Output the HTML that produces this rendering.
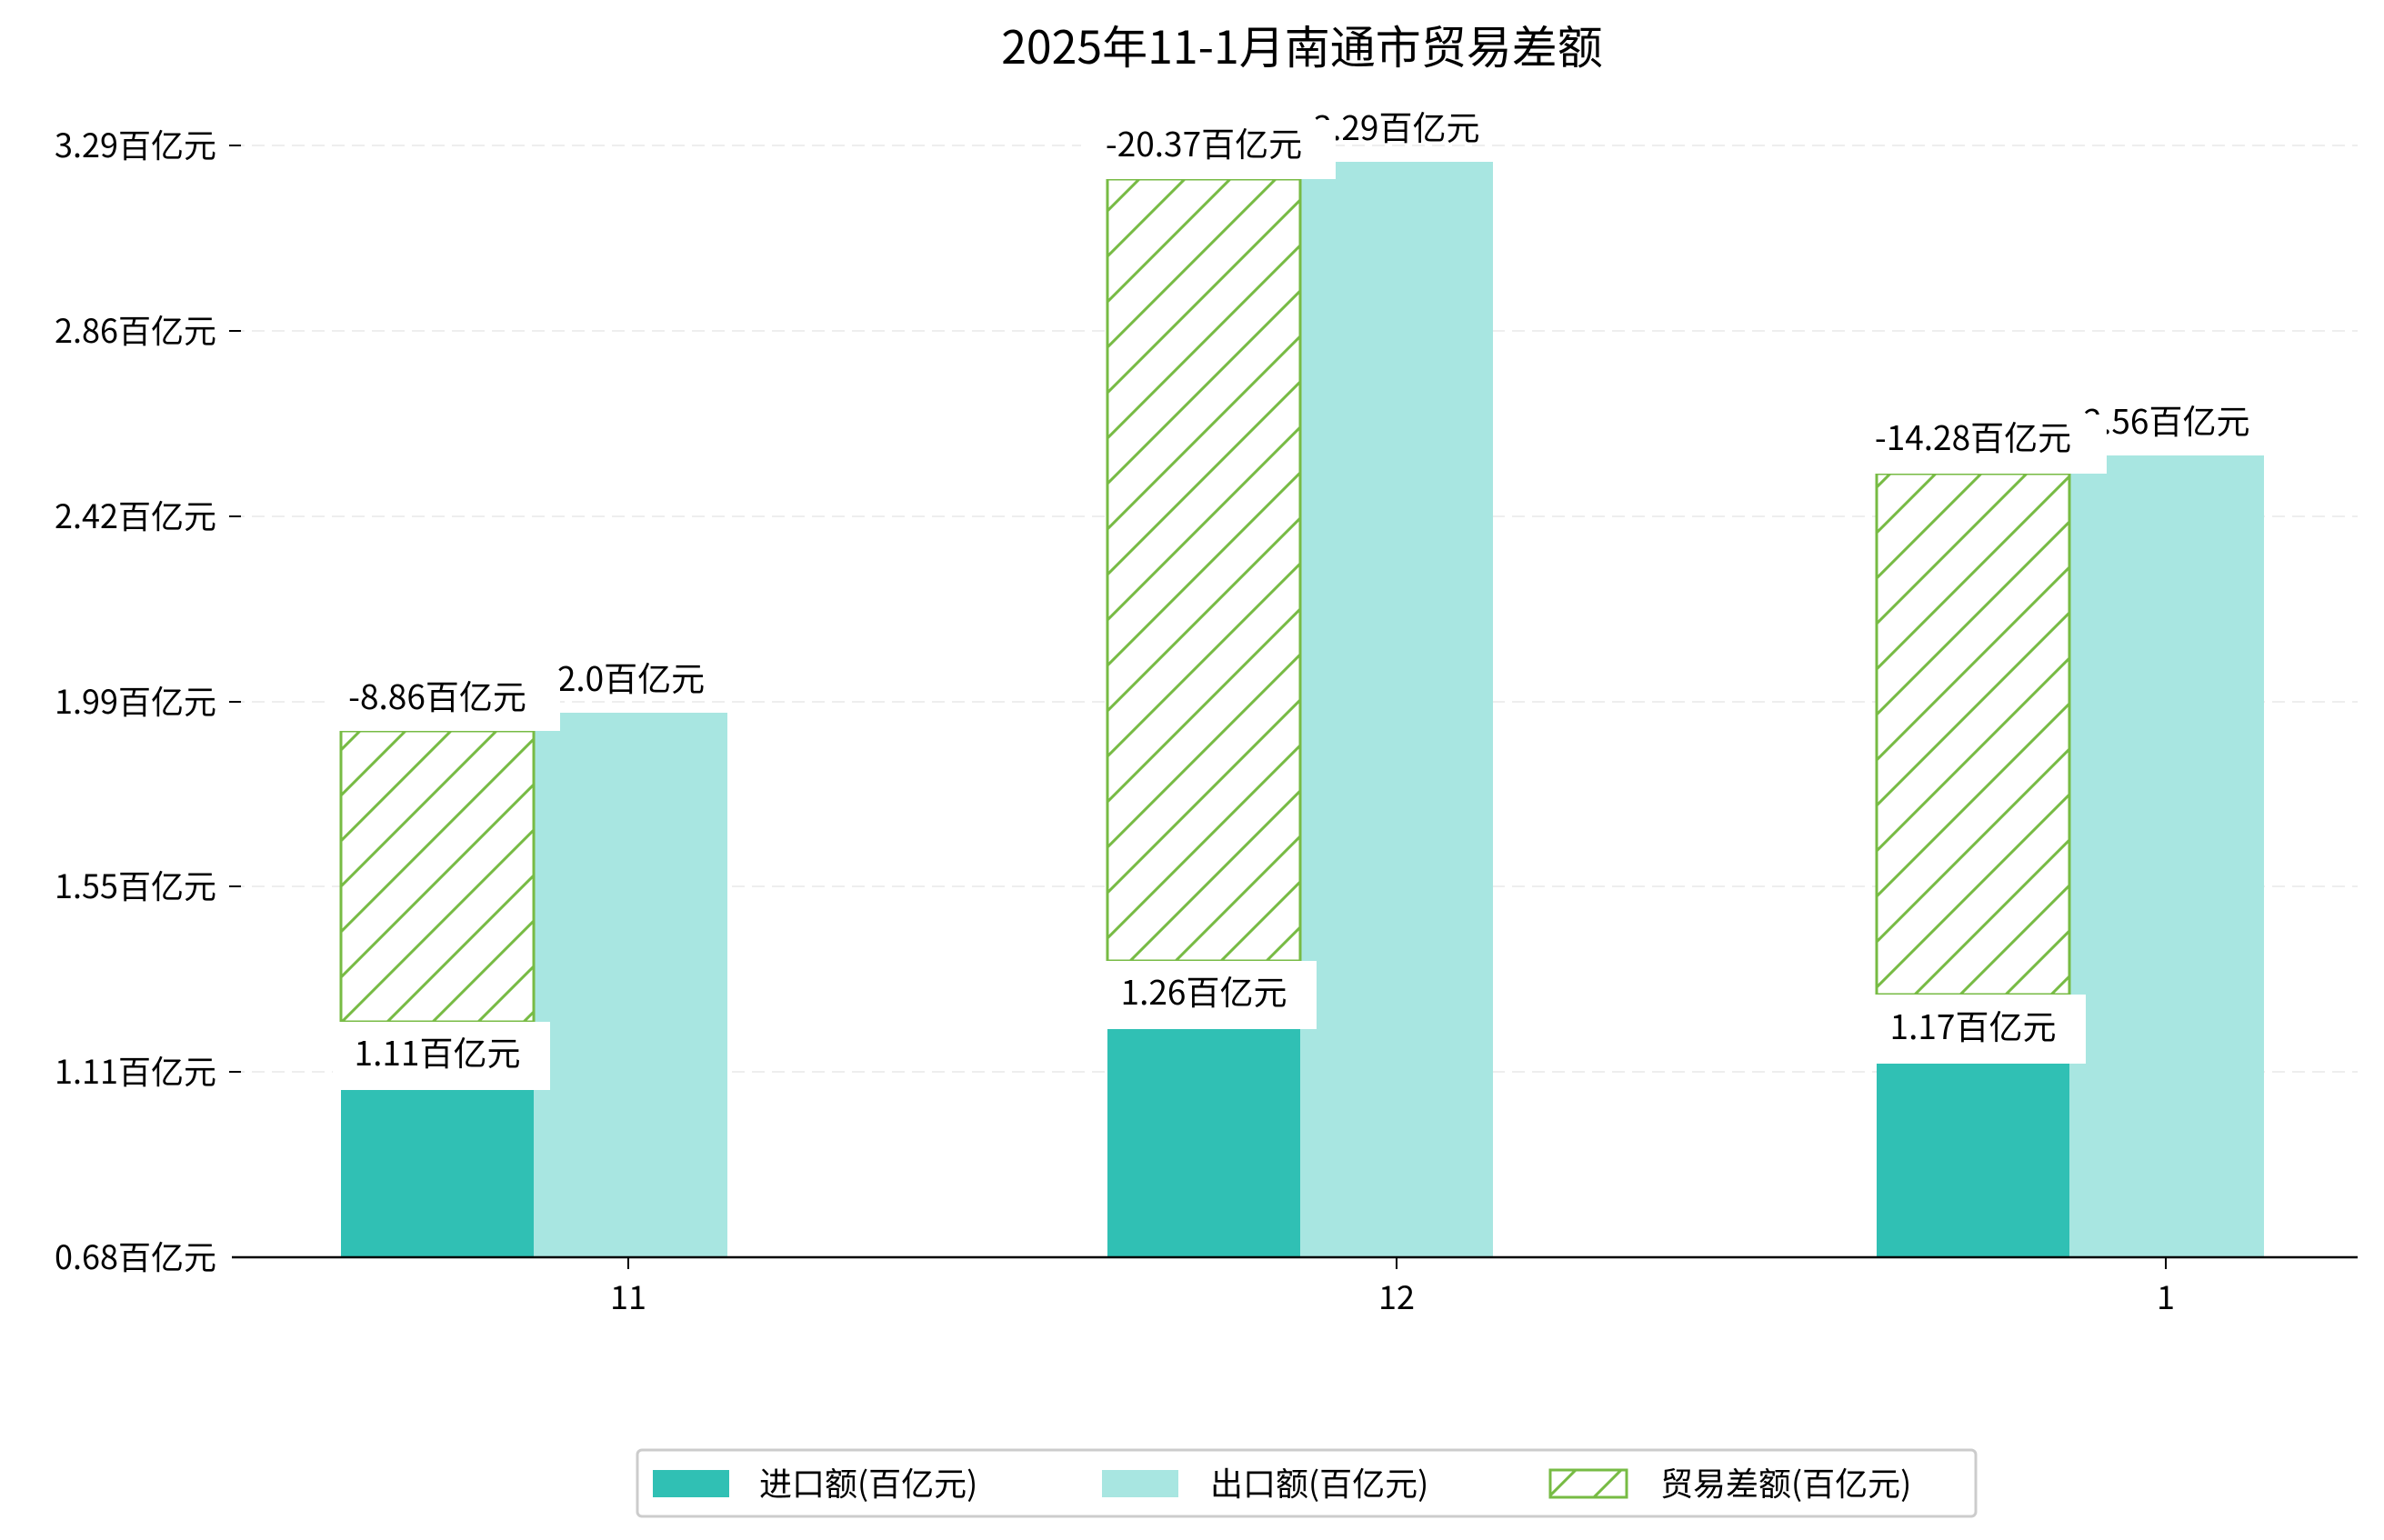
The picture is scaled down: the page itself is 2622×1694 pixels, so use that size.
<!DOCTYPE html>
<html><head><meta charset="utf-8"><style>
html,body{margin:0;padding:0;background:#fff;}
svg text{font-family:"WenQuanYi Zen Hei","Noto Sans CJK SC",sans-serif;fill:#000;}
</style></head><body>
<svg width="2622" height="1689" viewBox="0 0 2622 1689" xmlns="http://www.w3.org/2000/svg">
<defs>
<pattern id="h" patternUnits="userSpaceOnUse" width="50" height="50">
<rect width="50" height="50" fill="#fff"/>
<path d="M-5,55 L55,-5 M-5,5 L5,-5 M45,55 L55,45" stroke="#77bb44" stroke-width="3"/>
</pattern>
</defs>
<text x="1432" y="70" font-size="50" text-anchor="middle">2025年11-1月南通市贸易差额</text>
<g stroke="#eeeeee" stroke-width="2" stroke-dasharray="14,8">
<line x1="255" y1="160" x2="2593" y2="160"/><line x1="255" y1="364" x2="2593" y2="364"/>
<line x1="255" y1="568" x2="2593" y2="568"/><line x1="255" y1="772" x2="2593" y2="772"/>
<line x1="255" y1="975" x2="2593" y2="975"/><line x1="255" y1="1179" x2="2593" y2="1179"/>
</g>
<g font-size="36" text-anchor="end">
<text x="238" y="173">3.29百亿元</text><text x="238" y="377">2.86百亿元</text>
<text x="238" y="581">2.42百亿元</text><text x="238" y="785">1.99百亿元</text>
<text x="238" y="988">1.55百亿元</text><text x="238" y="1192">1.11百亿元</text>
<text x="238" y="1396">0.68百亿元</text>
</g>
<g stroke="#000" stroke-width="2">
<line x1="252" y1="160" x2="265" y2="160"/><line x1="252" y1="364" x2="265" y2="364"/>
<line x1="252" y1="568" x2="265" y2="568"/><line x1="252" y1="772" x2="265" y2="772"/>
<line x1="252" y1="975" x2="265" y2="975"/><line x1="252" y1="1179" x2="265" y2="1179"/>
</g>
<rect x="375" y="1199" width="212" height="184" fill="#30c0b4"/>
<rect x="587" y="784" width="213" height="599" fill="#a8e6e1"/>
<rect x="1218" y="1132" width="212" height="251" fill="#30c0b4"/>
<rect x="1430" y="178" width="212" height="1205" fill="#a8e6e1"/>
<rect x="2064" y="1170" width="212" height="213" fill="#30c0b4"/>
<rect x="2276" y="501" width="214" height="882" fill="#a8e6e1"/>
<g stroke="#77bb44" stroke-width="3">
<rect x="375" y="804" width="212" height="320" fill="url(#h)"/>
<rect x="1218" y="197" width="212" height="860" fill="url(#h)"/>
<rect x="2064" y="521" width="212" height="573" fill="url(#h)"/>
</g>
<g font-size="37" text-anchor="middle">
<text x="694" y="760">2.0百亿元</text>
<text x="1536" y="154">3.29百亿元</text>
<text x="2383" y="477">2.56百亿元</text>
<rect x="358" y="739" width="258" height="65" fill="#fff"/>
<text x="481" y="780">-8.86百亿元</text>
<rect x="1189" y="132" width="280" height="65" fill="#fff"/>
<text x="1324" y="172">-20.37百亿元</text>
<rect x="2035" y="456" width="282" height="65" fill="#fff"/>
<text x="2170" y="495">-14.28百亿元</text>
<rect x="366" y="1124" width="239" height="75" fill="#fff"/>
<text x="481" y="1172">1.11百亿元</text>
<rect x="1209" y="1057" width="239" height="75" fill="#fff"/>
<text x="1324" y="1105">1.26百亿元</text>
<rect x="2055" y="1094" width="239" height="76" fill="#fff"/>
<text x="2170" y="1143">1.17百亿元</text>
</g>
<line x1="255" y1="1383" x2="2593" y2="1383" stroke="#000" stroke-width="2.5"/>
<g stroke="#000" stroke-width="2">
<line x1="691" y1="1383" x2="691" y2="1396"/><line x1="1536" y1="1383" x2="1536" y2="1396"/><line x1="2382" y1="1383" x2="2382" y2="1396"/>
</g>
<g font-size="36" text-anchor="middle">
<text x="691" y="1440">11</text><text x="1536" y="1440">12</text><text x="2382" y="1440">1</text>
</g>
<rect x="701" y="1595" width="1472" height="73" rx="5" fill="#fff" stroke="#cccccc" stroke-width="3"/>
<rect x="718" y="1617" width="84" height="30" fill="#30c0b4"/>
<rect x="1212" y="1617" width="84" height="30" fill="#a8e6e1"/>
<rect x="1705" y="1617" width="84" height="30" fill="url(#h)" stroke="#77bb44" stroke-width="3"/>
<g font-size="36">
<text x="835" y="1645">进口额(百亿元)</text>
<text x="1331" y="1645">出口额(百亿元)</text>
<text x="1826" y="1645">贸易差额(百亿元)</text>
</g>
</svg>
</body></html>
